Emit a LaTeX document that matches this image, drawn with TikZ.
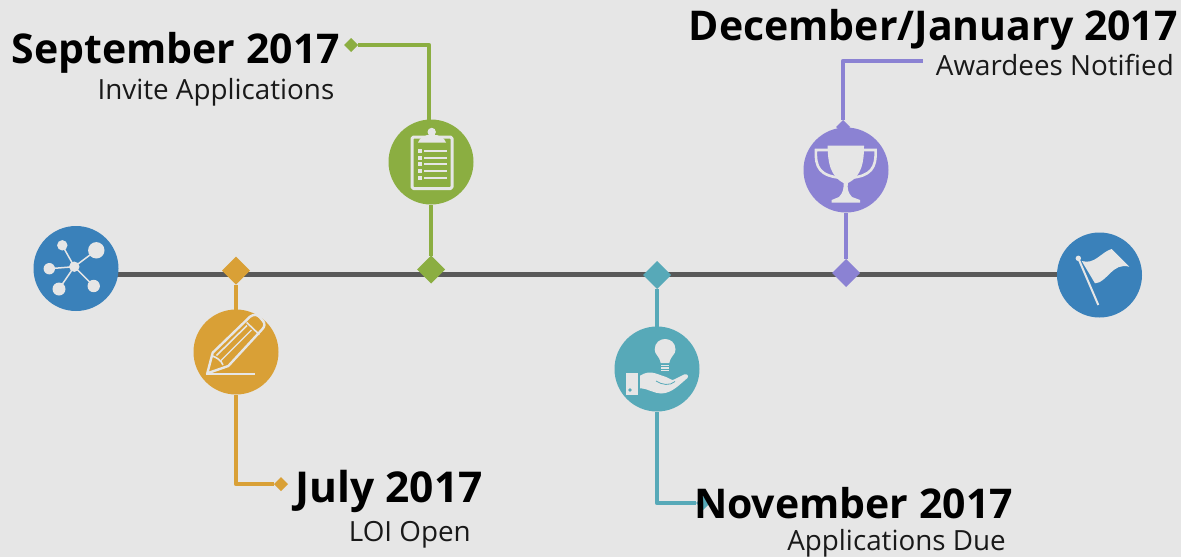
\documentclass[tikz,border=0pt]{standalone}
\usepackage{fontspec}
\setmainfont{Open Sans}
\usetikzlibrary{calc, shapes.geometric}
\definecolor{pagegrey}{HTML}{E6E6E6}
\definecolor{axisgrey}{HTML}{595959}
\definecolor{hubblue}{HTML}{3A81BA}
\definecolor{loiorange}{HTML}{D9A036}
\definecolor{invitegreen}{HTML}{8BAE41}
\definecolor{dueteal}{HTML}{57A9B8}
\definecolor{awardpurple}{HTML}{8B82D3}
\tikzset{
	iconcircle/.style={circle,inner sep=0,outer sep=0,minimum size=85},
	bigdiamond/.style={diamond,inner sep=0,outer sep=0,minimum width=28,minimum height=28},
	smalldiamond/.style={diamond,inner sep=0,outer sep=0,minimum width=14,minimum height=14},
	stem/.style={line width=4.5,line join=round},
	heading/.style={font=\fontsize{41}{46}\selectfont\bfseries,inner sep=0,text=black},
	caption/.style={font=\fontsize{27.8}{32}\selectfont,inner sep=0,text=black!90},
	iconline/.style={draw=pagegrey,line width=2.4,line join=round},
	iconfill/.style={fill=pagegrey}
}
\begin{document}
\begin{tikzpicture}[x=1pt,y=-1pt]
			\fill[pagegrey] (0,0) rectangle (1181,557);
			\useasboundingbox (0,0) rectangle (1181,557);
			%Circles on the axis
			\node (finish) [iconcircle,fill=hubblue] at (1099.5,275) {};
			\coordinate (axisLeft) at (110,274.5);
			\draw [line width=4.6,axisgrey] (axisLeft) -- (axisLeft -| finish.west);
			\node (start) [iconcircle,fill=hubblue] at (76,268.5) {};
			%Diamonds on the axis
			\node (julyDiamond) [bigdiamond,fill=loiorange] at (236,270.5) {};
			\node (septDiamond) [bigdiamond,fill=invitegreen] at (431,269.5) {};
			\node (novDiamond) [bigdiamond,fill=dueteal] at (657,275) {};
			\node (decDiamond) [bigdiamond,fill=awardpurple] at (846,273) {};
			%July
			\node (julyCircle) [iconcircle,fill=loiorange] at (236,352) {};
			\node (julyTip) [smalldiamond,fill=loiorange] at (281,484) {};
			\coordinate (julyElbow) at (236,484);
			\draw [stem,loiorange] (julyDiamond) -- (julyCircle);
			\draw [stem,loiorange] (julyCircle) -- (julyElbow) -- (julyTip);
			%September
			\node (septCircle) [iconcircle,fill=invitegreen] at (431,162) {};
			\node (septTip) [smalldiamond,fill=invitegreen] at (351,45) {};
			\coordinate (septElbow) at (429,45);
			\coordinate (septTop) at (429,122);
			\draw [stem,invitegreen] (septDiamond) -- (septCircle);
			\draw [stem,invitegreen] (septTop) -- (septElbow) -- (septTip);
			%November
			\node (novCircle) [iconcircle,fill=dueteal] at (657,369) {};
			\node (novTip) [smalldiamond,fill=dueteal] at (703,503) {};
			\coordinate (novElbow) at (657,503);
			\draw [stem,dueteal] (novDiamond) -- (novCircle);
			\draw [stem,dueteal] (novCircle) -- (novElbow) -- (novTip);
			%December
			\node (decCircle) [iconcircle,fill=awardpurple] at (846,170) {};
			\node (decTip) [smalldiamond,fill=awardpurple] at (843,127) {};
			\coordinate (decElbow) at (843,61);
			\coordinate (decEnd) at (923,61);
			\draw [stem,awardpurple] (decDiamond) -- (decCircle);
			\draw [stem,awardpurple] (decTip) -- (decElbow) -- (decEnd);
			%Network icon
			\coordinate (hub) at (74.3,266.7);
			\foreach \px/\py/\pr in {62.3/245.3/5.2,96.3/250.3/8.2,49.3/268.7/5.7,59/289/6.5,93.7/286/6.2} {
				\draw [pagegrey,line width=1.5] (hub) -- (\px,\py);
				\fill [iconfill] (\px,\py) circle (\pr);
			}
			\fill [iconfill] (hub) circle (5.2);
			%Pencil icon
			\draw [iconline] (207.3,373.3) -- (212.7,352.7) -- (250,316.7)
				.. controls (254,313.5) and (258,315) .. (260,317.5)
				-- (263,321) .. controls (265,323.5) and (265,326.5) .. (262,329.5)
				-- (228.3,366) -- cycle;
			\draw [pagegrey,line width=1.6] (246.7,322.5) -- (259.3,334.5);
			\draw [pagegrey,line width=1.6] (216.5,355.5) -- (247,325.5);
			\draw [pagegrey,line width=1.2] (221,360.5) -- (251.5,330);
			\draw [pagegrey,line width=1.6] (212.7,356) .. controls (217,358) and (221,360) .. (223,365);
			\draw [pagegrey,line width=1.6] (205.5,373.7) -- (255,373.7);
			%Clipboard icon
			\draw [iconline,line width=3,rounded corners=1.5] (432,137) -- (412,137) -- (412,188.5) -- (452,188.5) -- (452,137) -- (432,137);
			\fill [iconfill] (431.7,132) circle (4.2);
			\fill [iconfill] (418,142.5) .. controls (420,137) and (424,137) .. (427,135) -- (437,135) .. controls (440,137) and (444,137) .. (446,142.5) -- cycle;
			\foreach \ly in {151,157.7,164.3,171,177.7} {
				\fill [iconfill] (417.7,\ly-1.9) rectangle (421.5,\ly+1.9);
				\draw [pagegrey,line width=2.2] (424,\ly) -- (446.7,\ly);
			}
			%Bulb and hand icon
			\fill [iconfill] (660.7,363) .. controls (659,355) and (654.7,355) .. (654.7,349.5)
				.. controls (654.7,335.5) and (675.5,335.5) .. (675.5,349.5)
				.. controls (675.5,355) and (671,355) .. (669.3,363) -- cycle;
			\foreach \ly in {365.5,368,370.5} {
				\draw [pagegrey,line width=1.4] (661,\ly) -- (669.3,\ly);
			}
			\fill [iconfill] (625.7,373.3) rectangle (638.3,395);
			\fill [dueteal] (630,390) circle (1.8);
			\fill [iconfill] (640,375.7) .. controls (645,372.5) and (650,371.5) .. (656,373.5)
				-- (666,377) .. controls (670,378.5) and (672,381) .. (674,379.5)
				-- (684,374.5) .. controls (687,373.5) and (689,375.5) .. (687.5,378)
				.. controls (680,384) and (672,393.5) .. (661,393.5)
				.. controls (654,393.5) and (648,388.5) .. (640,388.3) -- cycle;
			\draw [dueteal,line width=0.8] (656,381) .. controls (662,385) and (670,386) .. (675,381.5);
			%Trophy icon
			\fill [iconfill] (827.7,145.7) -- (864,145.7) .. controls (864,162) and (862,176) .. (848,183)
				.. controls (847,188) and (848,193) .. (852,197) -- (860,200) -- (860,202.7) -- (831.7,202.7) -- (831.7,200) -- (839,197)
				.. controls (843,193) and (844,188) .. (843.5,183)
				.. controls (830,176) and (827.7,162) .. (827.7,145.7) -- cycle;
			\draw [pagegrey,line width=2.6] (829,150) -- (816,150) .. controls (815,168) and (820,176) .. (842,178);
			\draw [pagegrey,line width=2.6] (863,150) -- (875.5,150) .. controls (876.5,168) and (871,176) .. (850,178);
			%Flag icon
			\draw [pagegrey,line width=2] (1078.3,258.3) -- (1098.3,305);
			\fill [iconfill] (1078.3,258.3) circle (2.7);
			\fill [iconfill] (1081.7,261) .. controls (1095,265) and (1101,252) .. (1111.7,249)
				-- (1129.3,266.7) .. controls (1112,262) and (1107,283) .. (1095,283.3) -- cycle;
			%Texts
			\node (septHead) [heading,anchor=east] at (340,53) {September 2017};
			\node (septText) [caption,anchor=east] at (334.5,92) {Invite Applications};
			\node (decHead) [heading,anchor=east] at (1178,30) {December/January 2017};
			\node (decText) [caption,anchor=east] at (1174,65) {Awardees Notified};
			\node (julyHead) [heading,anchor=east,font=\fontsize{42.5}{46}\selectfont\bfseries] at (483,491) {July 2017};
			\node (julyText) [caption,anchor=east] at (471,535) {LOI Open};
			\node (novHead) [heading,anchor=east] at (1013,503) {November 2017};
			\node (novText) [caption,anchor=east] at (1006,543) {Applications Due};
\end{tikzpicture}
\end{document}
